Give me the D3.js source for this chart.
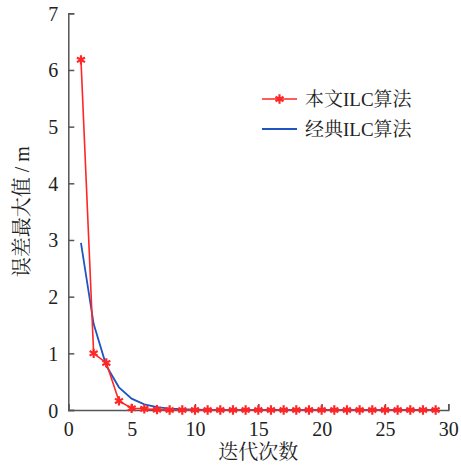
<!DOCTYPE html>
<html><head><meta charset="utf-8">
<script src="https://cdn.jsdelivr.net/npm/d3@7"></script>
<style>body{margin:0;background:#fff}</style>
</head><body>
<svg id="c" width="461" height="469"></svg>
<script>
const iterations = d3.range(1, 30);
const proposedILC = [6.18, 1.0, 0.83, 0.16, 0.03, 0.02, 0.006, 0, 0, 0, 0, 0, 0, 0, 0, 0, 0, 0, 0, 0, 0, 0, 0, 0, 0, 0, 0, 0, 0];
const classicILC = [2.95, 1.52, 0.78, 0.40, 0.20, 0.10, 0.05, 0.025, 0.013, 0.006, 0.003, 0.002, 0.001, 0, 0, 0, 0, 0, 0, 0, 0, 0, 0, 0, 0, 0, 0, 0, 0];
const xTicks = [0, 5, 10, 15, 20, 25, 30];
const yTicks = [0, 1, 2, 3, 4, 5, 6, 7];
const seriesNames = ["本文ILC算法", "经典ILC算法"];
const xLabel = "迭代次数";
const yLabel = "误差最大值 / m";

const svg = d3.select("#c");
const x = d3.scaleLinear().domain([0, 30]).range([68.3, 448.3]);
const y = d3.scaleLinear().domain([0, 7]).range([410, 13.3]);
const axisColor = "#555";
const font = "'Liberation Serif','Times New Roman','Noto Serif CJK SC','Noto Sans CJK SC',serif";

// axes
const gx = svg.append("g").attr("transform", `translate(0,${y(0)})`)
  .call(d3.axisBottom(x).tickValues(xTicks).tickFormat(d3.format("d")).tickSizeInner(-6).tickSizeOuter(-6).tickPadding(10));
const gy = svg.append("g").attr("transform", `translate(${x(0)},0)`)
  .call(d3.axisLeft(y).tickValues(yTicks).tickFormat(d3.format("d")).tickSizeInner(-6).tickSizeOuter(-6).tickPadding(10));
[gx, gy].forEach(g => {
  g.selectAll("path,line").attr("stroke", axisColor).attr("stroke-width", 1.5);
  g.selectAll("text").attr("fill", "#222").style("font-family", font).style("font-size", "20px");
});
gx.selectAll("text").attr("dy", "0.8em");
gy.selectAll("text").attr("dy", "0.35em");

// lines
const line = d3.line().x((d, i) => x(iterations[i])).y(d => y(d));
svg.append("path").datum(classicILC).attr("d", line)
  .attr("fill", "none").attr("stroke", "#1f55c0").attr("stroke-width", 1.8);
svg.append("path").datum(proposedILC).attr("d", line)
  .attr("fill", "none").attr("stroke", "#ff2626").attr("stroke-width", 1.6);
const star = d3.symbol().type(d3.symbolAsterisk).size(60);
svg.append("g").selectAll("path").data(proposedILC).join("path")
  .attr("transform", (d, i) => `translate(${x(iterations[i])},${y(d)})`)
  .attr("d", star).attr("fill", "none").attr("stroke", "#ff2626").attr("stroke-width", 2.2);

// legend
const lg = svg.append("g");
lg.append("line").attr("x1", 262).attr("x2", 297).attr("y1", 99).attr("y2", 99).attr("stroke", "#ff2626").attr("stroke-width", 1.6);
lg.append("path").attr("transform", "translate(279.5,99)").attr("d", star).attr("fill", "none").attr("stroke", "#ff2626").attr("stroke-width", 2.2);
lg.append("line").attr("x1", 262).attr("x2", 297).attr("y1", 129).attr("y2", 129).attr("stroke", "#1f55c0").attr("stroke-width", 1.8);
lg.selectAll("text").data(seriesNames).join("text")
  .attr("x", 305).attr("y", (d, i) => 99 + i * 30).attr("dy", "0.35em")
  .style("font-family", font).style("font-size", "19px").attr("fill", "#222").text(d => d);

// axis labels
svg.append("text").attr("x", x(15)).attr("y", 459).attr("text-anchor", "middle")
  .style("font-family", font).style("font-size", "20px").attr("fill", "#222").text(xLabel);
svg.append("text").attr("transform", `translate(29,${y(3.5)}) rotate(-90)`).attr("text-anchor", "middle")
  .style("font-family", font).style("font-size", "20px").attr("fill", "#222").text(yLabel);
</script>
</body></html>
